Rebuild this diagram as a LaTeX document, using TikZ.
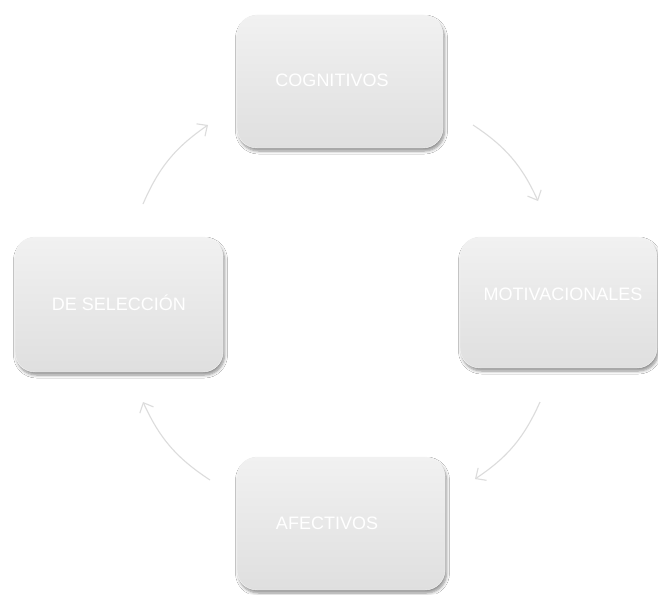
\documentclass[tikz,border=0pt]{standalone}
\usepackage{fontspec}
\setmainfont{Liberation Sans}
\usetikzlibrary{arrows.meta,shadows.blur}
\definecolor{boxtop}{RGB}{241,241,241}
\definecolor{boxbot}{RGB}{223,223,223}
\definecolor{arrowgray}{RGB}{220,220,220}
\begin{document}
\begin{tikzpicture}[x=1pt,y=-1pt,
  stagebox/.style={rectangle, rounded corners=20pt, inner sep=0pt,
    top color=boxtop, bottom color=boxbot, draw=white!96!black, line width=0.4pt,
    blur shadow={shadow xshift=1.5pt, shadow yshift=-3pt, shadow blur steps=6,
      shadow blur radius=3pt, shadow opacity=45}},
  stagetext/.style={text=white, font=\fontsize{18}{20}\selectfont, inner sep=0pt},
  cyclearrow/.style={draw=arrowgray, line width=1.1pt,
    -{Straight Barb[length=8pt,width=15pt,line width=1.1pt]}, bend left=16}]
\useasboundingbox (0,0) rectangle (658,594);
\fill[white] (0,0) rectangle (658,594);

% the four stages
\node[stagebox, minimum width=206pt, minimum height=133pt] (cog) at (340,81.5) {};
\node[stagebox, minimum width=197pt, minimum height=131pt] (mot) at (558.5,302.5) {};
\node[stagebox, minimum width=208pt, minimum height=133pt] (afe) at (341,523.5) {};
\node[stagebox, minimum width=208pt, minimum height=135pt] (sel) at (119,304.5) {};

% stage names
\node[stagetext] (cogt) at (332,80) {COGNITIVOS};
\node[stagetext] (mott) at (563,294) {MOTIVACIONALES};
\node[stagetext] (afet) at (327,523) {AFECTIVOS};
\node[stagetext] (selt) at (119,303) {DE SELECCIÓN};

% arrow end points between the stages
\coordinate (a1s) at (143,204);
\coordinate (a1e) at (208,125);
\coordinate (a2s) at (473,125);
\coordinate (a2e) at (538,201);
\coordinate (a3s) at (540,402);
\coordinate (a3e) at (475,479);
\coordinate (a4s) at (210,480);
\coordinate (a4e) at (143,402);

\draw[cyclearrow] (a1s) to (a1e);
\draw[cyclearrow] (a2s) to (a2e);
\draw[cyclearrow] (a3s) to (a3e);
\draw[cyclearrow] (a4s) to (a4e);
\end{tikzpicture}
\end{document}
